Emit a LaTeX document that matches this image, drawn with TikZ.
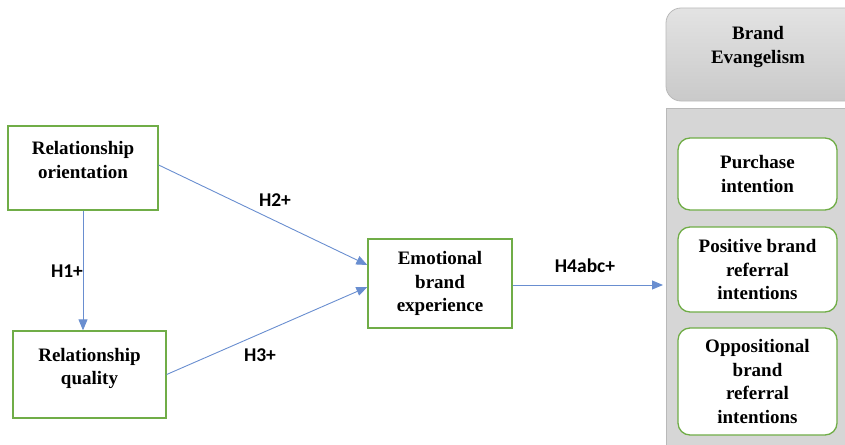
\documentclass[tikz,border=0pt]{standalone}
\usepackage{fontspec}
\setmainfont{Liberation Serif}
\newfontfamily\labfont{Carlito}
\usetikzlibrary{arrows.meta}
\definecolor{boxgreen}{HTML}{70AD47}
\definecolor{arrblue}{HTML}{4472C4}
\newcommand{\uptext}[1]{\raisebox{6pt}[\height][\depth]{\begin{tabular}{@{}c@{}}#1\end{tabular}}}
\begin{document}
\begin{tikzpicture}[x=1pt,y=-1pt,
  box/.style={draw=boxgreen,line width=1.3pt,fill=white,align=center,inner sep=0pt,
     font=\fontsize{19}{23.5}\selectfont\bfseries},
  rbox/.style={box,rounded corners=12pt},
  arr/.style={draw=arrblue!80,line width=0.9pt,-{Triangle[length=11pt,width=9pt]}},
  lab/.style={font=\labfont\fontsize{19.5}{22}\selectfont\bfseries,inner sep=0pt}]
\useasboundingbox (0,0) rectangle (845,444);
\clip (0,0) rectangle (845,444);
% right gray panels
\shade[top color=gray!22,bottom color=gray!42,draw=gray!55,line width=0.8pt,rounded corners=15pt]
  (666,8) rectangle (860,101);
\node[font=\fontsize{19}{23.5}\selectfont\bfseries,align=center] (be) at (758,47) {Brand\\Evangelism};
\fill[gray!32] (666,108) rectangle (860,450);
\draw[gray!55,line width=1pt] (666,450) -- (666,108) -- (860,108);
% boxes
\node[box,minimum width=150pt,minimum height=84pt] (ro) at (83,168) {\uptext{Relationship\\orientation}};
\node[box,minimum width=153pt,minimum height=87pt] (rq) at (89.5,374.5) {\uptext{Relationship\\quality}};
\node[box,minimum width=144pt,minimum height=89pt] (ebe) at (440,283.5) {Emotional\\brand\\experience};
\node[rbox,minimum width=159pt,minimum height=72pt] (pi) at (757.5,174) {Purchase\\intention};
\node[rbox,minimum width=159pt,minimum height=85pt] (pb) at (757.5,269.5) {Positive brand\\referral\\intentions};
\node[rbox,minimum width=159pt,minimum height=107pt] (ob) at (757.5,381.5) {Oppositional\\brand\\referral\\intentions};
\coordinate (panel) at (663,285);
% arrows
\draw[arr] (ro.south -| 83,0) -- (rq.north -| 83,0);
\draw[arr] ([yshift=3pt]ro.east) -- ([yshift=18.5pt]ebe.west);
\draw[arr] (rq.east) -- ([yshift=-3.5pt]ebe.west);
\draw[arr] ([yshift=-1.5pt]ebe.east) -- (panel);
% labels
\node[lab] (h1) at (67,271) {H1+};
\node[lab] (h2) at (275,200) {H2+};
\node[lab] (h3) at (260,355) {H3+};
\node[lab] (h4) at (585,266) {H4abc+};
\end{tikzpicture}
\end{document}
